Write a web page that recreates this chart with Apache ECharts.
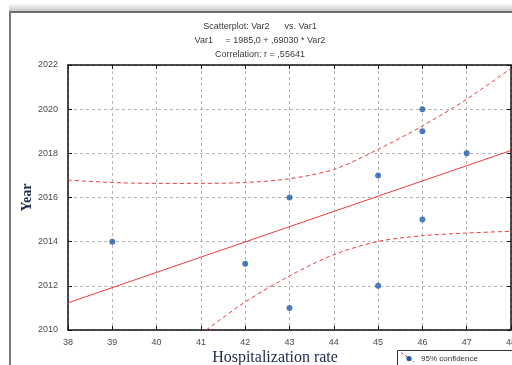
<!DOCTYPE html>
<html>
<head>
<meta charset="utf-8">
<script src="https://cdn.jsdelivr.net/npm/echarts@6/dist/echarts.min.js"></script>
<style>
  html, body { margin: 0; padding: 0; background: #fff; }
  #chart { width: 512px; height: 365px; }
</style>
</head>
<body>
<div id="chart"></div>
<script>
// scatter points (Var2 = hospitalization rate, Var1 = year)
var hospRate = [39, 42, 43, 43, 45, 45, 46, 46, 46, 47];
var years = [2014, 2013, 2016, 2011, 2017, 2012, 2020, 2019, 2015, 2018];

// regression line, read at the plot edges
var fitX = [38, 48];
var fitY = [2011.23, 2018.13];

// 95% confidence band
var upperX = [38, 39, 40, 41, 42, 43, 44, 45, 46, 47, 48];
var upperY = [2016.79, 2016.68, 2016.64, 2016.64, 2016.68, 2016.85, 2017.27, 2018.18, 2019.24, 2020.45, 2021.85];
var lowerX = [41.12, 42, 43, 44, 45, 46, 47, 48];
var lowerY = [2010.0, 2011.27, 2012.45, 2013.41, 2014.01, 2014.27, 2014.39, 2014.47];

var titleLines = ['Scatterplot: Var2      vs. Var1', 'Var1     = 1985,0 + ,69030 * Var2', 'Correlation: r = ,55641'];
var legendText = '95% confidence';

var zip = function (xs, ys) {
    return xs.map(function (x, i) { return [x, ys[i]]; });
};

var red = '#f03a3a';
var blue = '#1f5bab';
var axisCol = '#111';
var gridLine = { show: true, lineStyle: { color: '#b4b4b4', type: [3, 3], width: 1 } };
var labelStyle = { color: '#4a4a55', fontSize: 9, fontFamily: 'Liberation Sans', formatter: function (v) { return String(v); } };

var dom = document.getElementById('chart');
var myChart = echarts.init(dom);

var option = {
    animation: false,
    backgroundColor: '#fff',
    title: {
        text: titleLines.join('\n'),
        left: 255,
        top: 15,
        textAlign: 'center',
        textStyle: { fontSize: 9, fontWeight: 'normal', color: '#3a3a3a', lineHeight: 14, fontFamily: 'Liberation Sans' }
    },
    grid: { left: 68, right: 1, top: 65, bottom: 35, outerBoundsMode: 'none' },
    xAxis: [{
        type: 'value', min: 38, max: 48, interval: 1,
        name: 'Hospitalization rate', nameLocation: 'middle', nameGap: 20, nameMoveOverlap: false,
        nameTextStyle: { fontFamily: 'Liberation Serif', fontSize: 16, color: '#1d2a4a', padding: [0, 29, 0, 0] },
        axisLine: { onZero: false, lineStyle: { color: axisCol, width: 1.5 } },
        axisTick: { inside: true, length: 4, lineStyle: { color: axisCol } },
        axisLabel: Object.assign({ margin: 8 }, labelStyle),
        splitLine: gridLine
    }, {
        type: 'value', min: 38, max: 48, interval: 1, position: 'top',
        axisLine: { onZero: false, lineStyle: { color: axisCol, width: 1.5 } },
        axisTick: { inside: true, length: 4, lineStyle: { color: axisCol } },
        axisLabel: { show: false },
        splitLine: { show: false }
    }],
    yAxis: [{
        type: 'value', min: 2010, max: 2022, interval: 2,
        name: 'Year', nameLocation: 'middle', nameGap: 34, nameRotate: 90, nameMoveOverlap: false,
        nameTextStyle: { fontFamily: 'Liberation Serif', fontSize: 14, fontWeight: 'bold', color: '#1d2a4a' },
        axisLine: { onZero: false, lineStyle: { color: axisCol, width: 1.5 } },
        axisTick: { inside: true, length: 4, lineStyle: { color: axisCol } },
        axisLabel: Object.assign({ margin: 10 }, labelStyle),
        splitLine: gridLine
    }, {
        type: 'value', min: 2010, max: 2022, interval: 2, position: 'right',
        axisLine: { onZero: false, lineStyle: { color: axisCol, width: 1.5 } },
        axisTick: { inside: true, length: 4, lineStyle: { color: axisCol } },
        axisLabel: { show: false },
        splitLine: { show: false }
    }],
    series: [{
        name: 'fit', type: 'line', data: zip(fitX, fitY),
        symbol: 'none', lineStyle: { color: red, width: 1 }, z: 3
    }, {
        name: legendText, type: 'line', data: zip(upperX, upperY), smooth: 0.3,
        symbol: 'none', lineStyle: { color: red, width: 1, type: [4, 3] }, z: 3
    }, {
        name: legendText, type: 'line', data: zip(lowerX, lowerY), smooth: 0.3,
        symbol: 'none', lineStyle: { color: red, width: 1, type: [4, 3] }, z: 3
    }, {
        name: 'points', type: 'scatter', data: zip(hospRate, years),
        symbolSize: 6, itemStyle: { color: blue }, z: 4
    }],
    graphic: [
        // window frame at top / left
        { type: 'rect', shape: { x: 9, y: 3, width: 503, height: 8 }, silent: true,
          style: { fill: new echarts.graphic.LinearGradient(0, 0, 0, 1, [{ offset: 0, color: '#ffffff' }, { offset: 1, color: '#c8c8c8' }]) } },
        { type: 'rect', shape: { x: 9, y: 11, width: 503, height: 2 }, silent: true, style: { fill: '#6e6e6e' } },
        { type: 'rect', shape: { x: 9, y: 11, width: 2, height: 354 }, silent: true, style: { fill: '#7a7a7a' } },
        // legend box (cut at the bottom)
        { type: 'rect', shape: { x: 397.5, y: 350.5, width: 130, height: 30 }, z: 10,
          style: { fill: '#fff', stroke: '#333', lineWidth: 1 } },
        { type: 'line', shape: { x1: 401, y1: 352.5, x2: 414, y2: 362 }, z: 11,
          style: { stroke: red, lineWidth: 1, lineDash: [3, 2] } },
        { type: 'circle', shape: { cx: 409, cy: 358.5, r: 2.6 }, z: 12, style: { fill: blue } },
        { type: 'text', x: 421, y: 358.5, z: 11,
          style: { text: legendText, fontSize: 8, fontFamily: 'Liberation Sans', fill: '#333', verticalAlign: 'middle' } }
    ]
};

myChart.setOption(option);
window.onresize = myChart.resize;
</script>
</body>
</html>
